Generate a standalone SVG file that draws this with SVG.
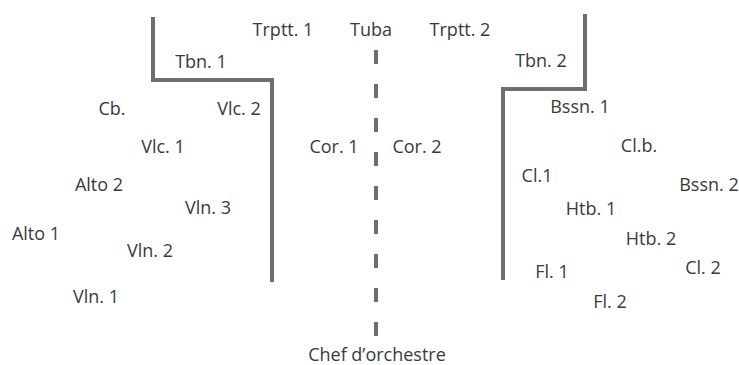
<svg xmlns="http://www.w3.org/2000/svg" width="739" height="365" viewBox="0 0 739 365">
<style>
text{font-family:"Open Sans","Noto Sans","DejaVu Sans",sans-serif;font-size:18px;fill:#3a3a3a;text-anchor:middle}
.wall{fill:none;stroke:#6e6e6e;stroke-width:4;stroke-linejoin:miter}
.axis{fill:none;stroke:#6e6e6e;stroke-width:4;stroke-dasharray:14 20}
</style>
<rect width="739" height="365" fill="#ffffff"/>
<g id="walls">
<path class="wall" d="M153,17 V80 H272 V282"/>
<path class="wall" d="M585,14 V89 H503 V280"/>
<line class="axis" x1="376" y1="50" x2="376" y2="336"/>
</g>
<g id="brass">
<text x="283" y="36">Trptt. 1</text>
<text x="371" y="36">Tuba</text>
<text x="460" y="36">Trptt. 2</text>
<text x="201" y="68">Tbn. 1</text>
<text x="541" y="67">Tbn. 2</text>
<text x="334" y="153">Cor. 1</text>
<text x="417" y="153">Cor. 2</text>
</g>
<g id="strings">
<text x="112" y="115">Cb.</text>
<text x="239" y="115">Vlc. 2</text>
<text x="163" y="153">Vlc. 1</text>
<text x="99" y="191">Alto 2</text>
<text x="208" y="214">Vln. 3</text>
<text x="36" y="240">Alto 1</text>
<text x="150" y="257">Vln. 2</text>
<text x="96" y="303">Vln. 1</text>
</g>
<g id="woodwinds">
<text x="580" y="113">Bssn. 1</text>
<text x="639" y="152">Cl.b.</text>
<text x="537" y="182">Cl.1</text>
<text x="709" y="191">Bssn. 2</text>
<text x="591" y="215">Htb. 1</text>
<text x="651" y="245">Htb. 2</text>
<text x="703" y="274">Cl. 2</text>
<text x="552" y="278">Fl. 1</text>
<text x="610" y="308">Fl. 2</text>
</g>
<g id="conductor">
<text x="377" y="361">Chef d’orchestre</text>
</g>
</svg>
